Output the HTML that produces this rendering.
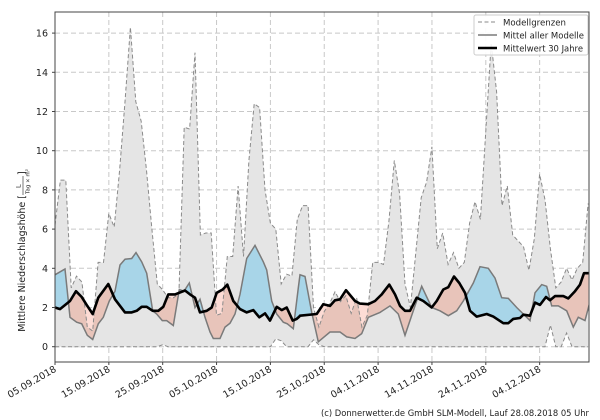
<!DOCTYPE html>
<html><head><meta charset="utf-8"><style>
html,body{margin:0;padding:0;background:#fff;width:600px;height:420px;overflow:hidden}
svg{display:block;font-family:"DejaVu Sans","Liberation Sans",sans-serif}
</style></head><body>
<svg id="s" width="600" height="420" xmlns="http://www.w3.org/2000/svg"></svg>
<script>
const L=55,R=589,T=12,B=362,Y0=346.7,PU=19.6,DX=5.385;
const yv=v=>Y0-v*PU;
const up=[6.2,8.5,8.5,3.0,3.6,3.3,1.0,0.8,4.3,4.3,6.8,6.1,9,12.5,16.3,12.5,11.5,9,6,3.2,2.9,2.5,2.5,2.7,11.2,11.1,15.0,5.7,5.8,5.8,1.6,1.7,4.6,4.6,8.2,4.6,9.5,12.4,12.2,8,6.3,6.0,3.2,3.7,3.6,6.5,7.2,7.2,2.0,1.0,1.8,2.2,2.8,2.3,2.6,1.7,2.5,1.0,1.6,4.3,4.3,4.2,6.4,9.5,7.8,3.2,2.0,4.8,7.6,8.4,10.2,5.0,5.8,4.2,4.8,4.0,4.3,6.3,7.4,6.5,11,15.5,13,7.2,8.2,5.7,5.4,5.1,3.9,5.5,8.8,7.5,5,3,3.3,4.0,3.4,4.0,4.3,7.3,7.3];
const lo=up.map(()=>0);lo[20]=0.1;lo[41]=0.4;lo[42]=0.3;lo[92]=1.1;lo[95]=0.7;lo[48]=0.35;lo[49]=0.1;
function conv(a,off){const r=[];for(let i=0;i<a.length;i+=2)r.push([off+a[i]/3,(410-a[i+1])/60]);return r}
const mean=conv([165,190,195,172,210,320,230,335,245,340,262,375,278,388,295,340,310,320,328,270,345,240,360,160,375,142,395,140,408,122,425,150,440,185,458,300,470,310,487,330,500,330,520,345,538,235,552,240,568,215,585,290,600,265,615,320,630,365,640,385,660,385,675,350,690,338,705,310,720,250,740,140,765,100,790,150,800,175,815,270,830,310,850,335,862,340,880,355,895,230],0).concat(conv([0,190,15,195,35,305,55,395,90,365,120,365,140,380,165,385,185,370,205,320,240,305,270,285,295,310,315,375,340,300,365,225,395,290,420,300,445,315,470,300,490,270,520,215,540,165,565,170,585,200,605,260,625,262,650,290,670,310,690,330,705,245,725,220,740,225,755,285,775,285,800,300,820,350,835,320,855,330,868,280],300));
const clim=conv([165,290,180,295,210,270,228,240,245,258,262,285,278,310,295,260,325,218,345,265,375,305,395,305,410,300,425,288,440,288,458,300,475,300,490,288,505,250,525,250,555,238,570,250,585,260,600,305,620,300,635,290,650,245,668,235,682,220,700,270,720,295,740,305,760,298,778,320,795,308,810,330,830,288,845,298,860,290,878,330,890,325,898,318],0).concat(conv([0,315,50,310,70,280,90,285,105,268,120,265,138,237,165,270,180,278,205,280,225,270,245,250,268,220,285,250,300,285,315,300,330,300,350,260,370,270,395,290,410,270,430,235,445,228,462,195,478,215,495,245,510,300,530,318,560,310,580,318,610,338,625,338,640,325,660,322,670,312,690,315,705,275,720,282,738,258,750,268,765,255,790,255,805,262,825,240,840,220,852,185,868,185],300));
const P=a=>a.map(p=>p[0].toFixed(1)+','+yv(p[1]).toFixed(1)).join(' ');
const dayP=a=>a.map((v,i)=>[L+i*DX,v]);
const U=dayP(up).filter(p=>p[0]<=R+0.1),Lo=dayP(lo).filter(p=>p[0]<=R+0.1);
const band=P(U)+' '+P(Lo.slice().reverse());
let h='<defs><clipPath id="pa"><rect x="'+L+'" y="'+T+'" width="'+(R-L)+'" height="'+(B-T)+'"/></clipPath>';
h+='<clipPath id="abC"><polygon points="'+L+','+T+' '+P(clim)+' '+R+','+T+'"/></clipPath>';
h+='<clipPath id="abM"><polygon points="'+L+','+T+' '+P(mean)+' '+R+','+T+'"/></clipPath>';
h+='<clipPath id="bd"><polygon points="'+band+'"/></clipPath></defs>';
h+='<g clip-path="url(#pa)">';
for(let v=0;v<=16;v+=2)h+='<line x1="'+L+'" x2="'+R+'" y1="'+yv(v)+'" y2="'+yv(v)+'" stroke="#c8c8c8" stroke-dasharray="5,3" stroke-width="1"/>';
for(let k=0;k<10;k++){const x=L+k*10*DX;h+='<line x1="'+x+'" x2="'+x+'" y1="'+T+'" y2="'+B+'" stroke="#c8c8c8" stroke-dasharray="5,3"/>';}
const redPoly='<polygon points="'+L+','+B+' '+P(clim)+' '+R+','+B+'" FILL clip-path="url(#abM)"/>';
h+=redPoly.replace('FILL','fill="#fddcd5"');
h+='<polygon points="'+band+'" fill="#e5e5e5"/>';
h+='<g clip-path="url(#bd)">'+redPoly.replace('FILL','fill="#e8c4ba"')+'</g>';
h+='<polygon points="'+L+','+B+' '+P(mean)+' '+R+','+B+'" fill="#a8d5e8" clip-path="url(#abC)"/>';
h+='<polyline points="'+P(U)+'" fill="none" stroke="#8a8a8a" stroke-dasharray="4,2.5" stroke-width="1"/>';
h+='<polyline points="'+P(Lo)+'" fill="none" stroke="#8a8a8a" stroke-dasharray="4,2.5" stroke-width="1"/>';
h+='<polyline points="'+P(mean)+'" fill="none" stroke="#7a7a7a" stroke-width="1.5"/>';
h+='<polyline points="'+P(clim)+'" fill="none" stroke="#000" stroke-width="2.6" stroke-linejoin="round"/>';
h+='</g>';
h+='<rect x="'+L+'" y="'+T+'" width="'+(R-L)+'" height="'+(B-T)+'" fill="none" stroke="#444" stroke-width="1"/>';
for(let v=0;v<=16;v+=2){h+='<line x1="'+(L-3)+'" x2="'+L+'" y1="'+yv(v)+'" y2="'+yv(v)+'" stroke="#444"/>';h+='<text x="'+(L-7)+'" y="'+(yv(v)+3.5)+'" font-size="9.5" text-anchor="end" fill="#222">'+v+'</text>';}
const dl=['05.09.2018','15.09.2018','25.09.2018','05.10.2018','15.10.2018','25.10.2018','04.11.2018','14.11.2018','24.11.2018','04.12.2018'];
dl.forEach((t,k)=>{const x=L+k*10*DX;h+='<line x1="'+x+'" x2="'+x+'" y1="'+B+'" y2="'+(B+3)+'" stroke="#444"/>';h+='<text transform="translate('+(x+2)+','+(B+9)+') rotate(-30)" font-size="9.5" text-anchor="end" fill="#222">'+t+'</text>';});
h+='<g transform="translate(25,187) rotate(-90)"><text x="-8" y="0" font-size="9.5" text-anchor="end" fill="#222">Mittlere Niederschlagshöhe [</text><text x="-1" y="-4.5" font-size="6.5" fill="#222">L</text><line x1="-8" x2="11" y1="-2" y2="-2" stroke="#222" stroke-width="0.6"/><text x="-7" y="4.5" font-size="5.5" fill="#222">Tag × m²</text><text x="12" y="0" font-size="9.5" fill="#222">]</text></g>';
h+='<rect x="474" y="15" width="114" height="40" fill="#fff" fill-opacity="0.9" stroke="#ccc" rx="2"/>';
h+='<line x1="478" x2="497" y1="22" y2="22" stroke="#8a8a8a" stroke-dasharray="4,2.5"/><text x="503" y="25.5" font-size="9" fill="#222" textLength="63" lengthAdjust="spacingAndGlyphs">Modellgrenzen</text>';
h+='<line x1="478" x2="497" y1="35" y2="35" stroke="#7a7a7a" stroke-width="1.5"/><text x="503" y="38.5" font-size="9" fill="#222" textLength="81" lengthAdjust="spacingAndGlyphs">Mittel aller Modelle</text>';
h+='<line x1="478" x2="497" y1="48" y2="48" stroke="#000" stroke-width="2.6"/><text x="503" y="51.5" font-size="9" fill="#222" textLength="80" lengthAdjust="spacingAndGlyphs">Mittelwert 30 Jahre</text>';
h+='<text x="321" y="416" font-size="9" fill="#222" textLength="268" lengthAdjust="spacingAndGlyphs">(c) Donnerwetter.de GmbH SLM-Modell, Lauf 28.08.2018 05 Uhr</text>';
document.getElementById('s').innerHTML=h;
</script>
</body></html>
